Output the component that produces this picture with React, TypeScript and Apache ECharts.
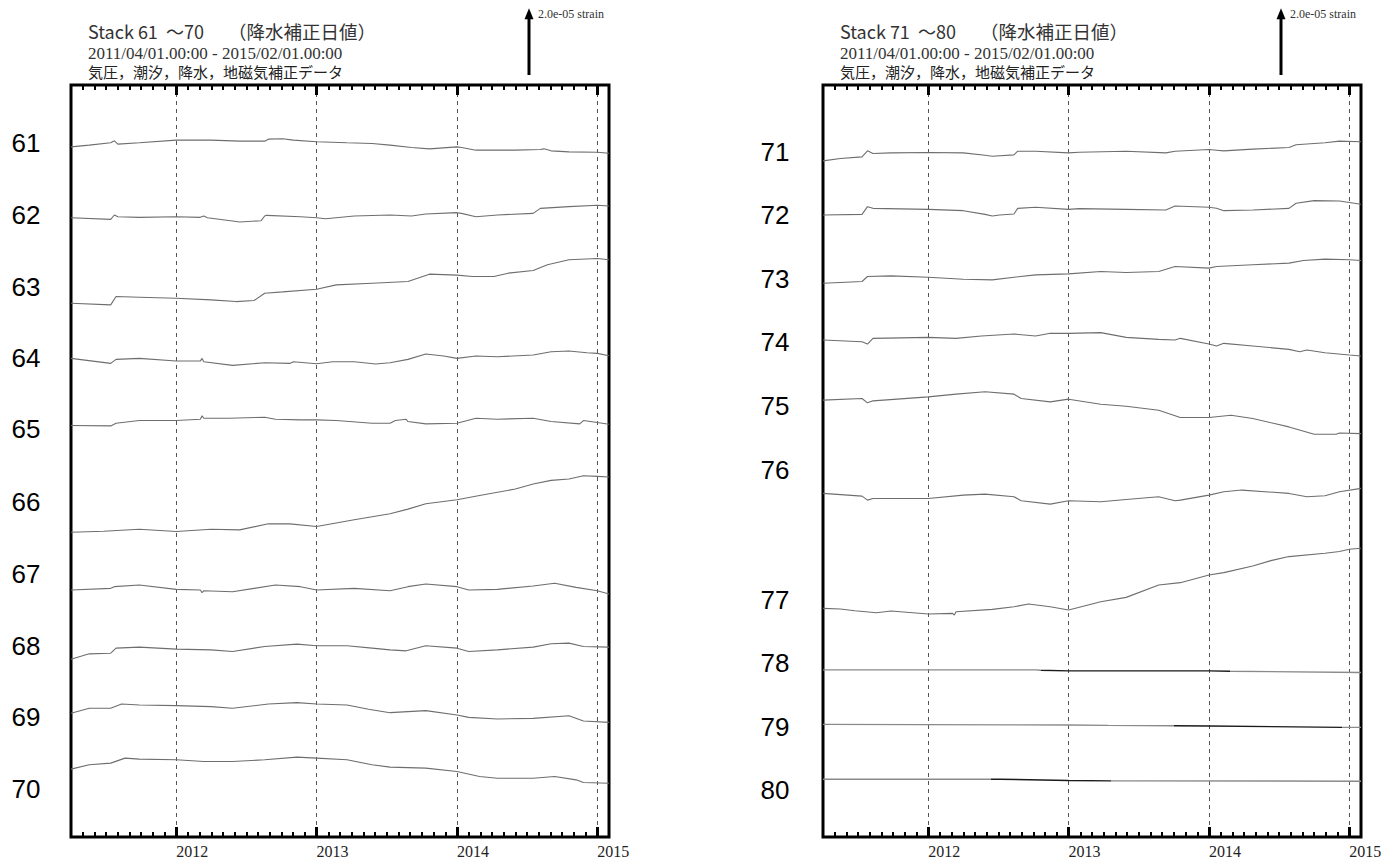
import React, { useEffect, useRef } from 'react';
import * as echarts from 'echarts';

// ---- time range & ticks (decimal years) ----
const START_YEAR = 2011.25; // 2011/04/01
const END_YEAR = 2015.0833; // 2015/02/01
const yearTicks = [2012, 2013, 2014, 2015];
const STRAIN_PER_UNIT = 1e-7; // y values are in units of 1e-7 strain
const SCALE_BAR_STRAIN = 2.0e-5;
const Y_MAX_UNITS = 2250;

const titleLeft = ['Stack 61', '～70', '（降水補正日値）'];
const titleRight = ['Stack 71', '～80', '（降水補正日値）'];
const periodText = '2011/04/01.00:00 - 2015/02/01.00:00';
const noteText = '気圧，潮汐，降水，地磁気補正データ';
const scaleText = '2.0e-05 strain';

const leftNames = ['61', '62', '63', '64', '65', '66', '67', '68', '69', '70'];
const rightNames = ['71', '72', '73', '74', '75', '76', '77', '78', '79', '80'];

// stack offsets (1e-7 strain)
const leftOffsets = [2065, 1853, 1597, 1432, 1231, 912, 739, 532, 370, 203];
const rightOffsets = [2023, 1861, 1657, 1487, 1307, 1028, 684, 500, 337, 173];

type P = [number, number];
// [decimal year, change in 1e-7 strain]
const s61: P[] = [[2011.25,0],[2011.38,5],[2011.533,12],[2011.559,18],[2011.584,8],[2011.737,12],[2012.0,20],[2012.247,20],[2012.452,17],[2012.63,17],[2012.656,23],[2012.758,24],[2012.834,20],[2013.0,15],[2013.217,12],[2013.395,10],[2013.523,5],[2013.676,-2],[2013.804,-6],[2014.0,0],[2014.033,-2],[2014.135,-10],[2014.416,-10],[2014.594,-8],[2014.62,-6],[2014.671,-12],[2014.798,-15],[2015.0,-16],[2015.0833,-19]];
const s62: P[] = [[2011.25,0],[2011.533,-5],[2011.559,8],[2011.584,3],[2011.737,1],[2012.0,3],[2012.171,1],[2012.196,5],[2012.222,0],[2012.401,-10],[2012.452,-13],[2012.605,-9],[2012.63,5],[2012.643,7],[2012.885,3],[2013.0,0],[2013.064,-3],[2013.268,5],[2013.523,8],[2013.676,5],[2013.778,11],[2014.0,15],[2014.033,13],[2014.135,3],[2014.288,8],[2014.543,13],[2014.594,28],[2014.798,33],[2015.0,37],[2015.0833,35]];
const s63: P[] = [[2011.25,0],[2011.533,-5],[2011.571,20],[2011.737,18],[2012.0,15],[2012.247,10],[2012.426,5],[2012.554,8],[2012.63,30],[2012.758,34],[2013.0,42],[2013.14,55],[2013.395,60],[2013.651,65],[2013.74,78],[2013.804,87],[2014.0,84],[2014.11,80],[2014.263,80],[2014.365,90],[2014.543,98],[2014.645,115],[2014.798,130],[2015.0,134],[2015.0833,130]];
const s64: P[] = [[2011.25,0],[2011.533,-15],[2011.571,-3],[2011.737,0],[2012.0,-8],[2012.171,-8],[2012.184,0],[2012.196,-10],[2012.401,-21],[2012.63,-13],[2012.809,-15],[2012.834,-10],[2013.0,-16],[2013.115,-10],[2013.268,-10],[2013.421,-17],[2013.523,-13],[2013.651,-3],[2013.778,13],[2013.906,7],[2014.0,0],[2014.135,7],[2014.288,5],[2014.543,10],[2014.671,20],[2014.798,22],[2014.926,17],[2015.0,15],[2015.0833,8]];
const s65: P[] = [[2011.25,0],[2011.533,-1],[2011.571,7],[2011.737,15],[2012.0,15],[2012.171,19],[2012.184,29],[2012.196,22],[2012.375,22],[2012.63,25],[2012.707,19],[2012.885,17],[2013.0,17],[2013.14,15],[2013.395,7],[2013.523,7],[2013.561,15],[2013.638,19],[2013.651,12],[2013.778,5],[2014.0,7],[2014.135,22],[2014.288,19],[2014.543,22],[2014.671,12],[2014.875,5],[2014.901,15],[2015.0,9],[2015.0833,4]];
const s66: P[] = [[2011.25,0],[2011.482,3],[2011.737,9],[2012.0,2],[2012.247,9],[2012.452,7],[2012.656,25],[2012.809,25],[2013.0,17],[2013.268,37],[2013.523,55],[2013.651,69],[2013.778,85],[2014.0,97],[2014.161,110],[2014.416,129],[2014.543,144],[2014.671,155],[2014.798,159],[2014.901,169],[2015.0,167],[2015.0833,165]];
const s67: P[] = [[2011.25,0],[2011.533,5],[2011.559,10],[2011.737,15],[2012.0,2],[2012.171,0],[2012.184,-8],[2012.196,-2],[2012.401,-5],[2012.554,5],[2012.707,15],[2012.885,10],[2013.0,0],[2013.268,5],[2013.523,-2],[2013.651,10],[2013.778,18],[2014.0,10],[2014.084,0],[2014.288,2],[2014.543,12],[2014.696,20],[2014.849,8],[2015.0,-2],[2015.0833,-12]];
const s68: P[] = [[2011.25,0],[2011.38,16],[2011.533,18],[2011.571,33],[2011.737,36],[2012.0,30],[2012.247,28],[2012.401,23],[2012.63,38],[2012.86,45],[2013.0,40],[2013.217,40],[2013.395,33],[2013.523,28],[2013.638,25],[2013.778,40],[2014.0,33],[2014.084,23],[2014.288,28],[2014.543,36],[2014.671,46],[2014.798,48],[2014.901,38],[2015.0833,36]];
const s69: P[] = [[2011.25,0],[2011.38,15],[2011.533,15],[2011.61,28],[2011.737,25],[2012.0,23],[2012.247,20],[2012.401,15],[2012.656,28],[2012.86,32],[2013.0,28],[2013.217,25],[2013.37,12],[2013.523,2],[2013.651,5],[2013.778,8],[2014.0,-5],[2014.084,-12],[2014.288,-17],[2014.543,-15],[2014.798,-7],[2014.901,-23],[2015.0833,-27]];
const s70: P[] = [[2011.25,0],[2011.38,13],[2011.533,18],[2011.635,33],[2011.737,30],[2012.0,28],[2012.196,23],[2012.401,23],[2012.63,28],[2012.86,36],[2013.0,33],[2013.217,28],[2013.395,13],[2013.523,6],[2013.778,3],[2014.0,-7],[2014.161,-22],[2014.288,-27],[2014.543,-27],[2014.696,-22],[2014.849,-32],[2014.901,-40],[2015.0833,-42]];

const s71: P[] = [[2011.25,0],[2011.374,7],[2011.528,12],[2011.567,30],[2011.606,22],[2011.735,24],[2012.0,25],[2012.25,24],[2012.405,17],[2012.456,14],[2012.611,18],[2012.637,29],[2012.765,29],[2013.0,24],[2013.075,26],[2013.41,29],[2013.693,24],[2013.758,29],[2014.0,34],[2014.054,32],[2014.106,30],[2014.312,35],[2014.57,40],[2014.621,48],[2014.827,54],[2014.93,59],[2015.0833,57]];
const s72: P[] = [[2011.25,0],[2011.528,2],[2011.567,25],[2011.606,20],[2012.0,17],[2012.25,13],[2012.405,2],[2012.456,-3],[2012.508,0],[2012.611,3],[2012.637,20],[2012.765,23],[2013.0,17],[2013.075,19],[2013.41,17],[2013.693,15],[2013.758,27],[2014.0,23],[2014.054,20],[2014.106,13],[2014.312,15],[2014.57,20],[2014.621,35],[2014.75,43],[2014.93,42],[2015.0833,32]];
const s73: P[] = [[2011.25,0],[2011.528,5],[2011.567,20],[2011.735,22],[2012.0,18],[2012.25,12],[2012.456,10],[2012.611,18],[2012.765,25],[2013.0,28],[2013.229,35],[2013.41,32],[2013.642,35],[2013.758,50],[2014.0,45],[2014.054,50],[2014.312,55],[2014.57,60],[2014.673,68],[2014.827,72],[2015.0,70],[2015.0833,68]];
const s74: P[] = [[2011.25,0],[2011.528,-5],[2011.567,-12],[2011.606,5],[2012.0,8],[2012.198,5],[2012.379,12],[2012.611,18],[2012.765,12],[2012.869,20],[2013.0,20],[2013.229,22],[2013.41,8],[2013.642,2],[2013.758,0],[2013.796,5],[2014.0,-12],[2014.054,-18],[2014.106,-10],[2014.312,-18],[2014.57,-28],[2014.647,-35],[2014.698,-30],[2014.827,-38],[2015.0,-45],[2015.0833,-48]];
const s75: P[] = [[2011.25,0],[2011.528,5],[2011.567,-8],[2011.606,-2],[2012.0,10],[2012.198,18],[2012.405,25],[2012.611,18],[2012.662,5],[2012.869,-5],[2013.0,3],[2013.229,-12],[2013.41,-18],[2013.642,-30],[2013.796,-52],[2014.0,-52],[2014.157,-45],[2014.312,-55],[2014.57,-80],[2014.75,-102],[2014.905,-102],[2014.93,-98],[2015.0833,-100]];
const s76: P[] = [[2011.25,0],[2011.528,-8],[2011.567,-20],[2011.606,-15],[2012.0,-15],[2012.25,-5],[2012.405,-2],[2012.611,-10],[2012.662,-22],[2012.869,-32],[2013.0,-22],[2013.229,-25],[2013.41,-18],[2013.642,-10],[2013.758,-22],[2013.796,-20],[2014.0,-5],[2014.106,5],[2014.235,10],[2014.57,0],[2014.698,-10],[2014.827,-7],[2014.93,5],[2015.0833,15]];
const s77: P[] = [[2011.25,0],[2011.374,-2],[2011.477,-7],[2011.631,-13],[2011.735,-8],[2012.0,-17],[2012.173,-15],[2012.186,-20],[2012.198,-10],[2012.456,-3],[2012.611,5],[2012.714,13],[2012.869,5],[2013.0,-5],[2013.229,20],[2013.41,33],[2013.642,70],[2013.796,77],[2014.0,100],[2014.106,107],[2014.312,127],[2014.441,143],[2014.57,155],[2014.827,165],[2014.93,170],[2015.0,177],[2015.0833,180]];
const s78: P[] = [[2011.25,0],[2012.765,0],[2012.8,-1],[2013.0,-3],[2014.0,-3],[2014.15,-4],[2015.0833,-8]];
const s79: P[] = [[2011.25,0],[2013.0,-2],[2013.281,-3],[2013.75,-4],[2014.0,-5],[2014.95,-9],[2015.0833,-9]];
const s80: P[] = [[2011.25,0],[2012.45,0],[2012.508,0],[2013.0,-4],[2013.3,-5],[2015.0833,-6]];

const leftSeries = [s61, s62, s63, s64, s65, s66, s67, s68, s69, s70];
const rightSeries = [s71, s72, s73, s74, s75, s76, s77, s78, s79, s80];

// noisy (darker) stretches of the flat traces 78-80: [series name, from year, to year]
const darkSpans: [string, number, number][] = [['78', 2012.8, 2014.15], ['79', 2013.75, 2014.95], ['80', 2012.45, 2013.3]];

// ---- layout (pixels) ----
const GRID_TOP = 85;
const GRID_H = 752;
const GRID_W = 538;
const PANEL_LEFT = [71, 823];
const NAME_X = [26, 775];
const leftNameY = [143, 215, 287, 358, 429, 502, 574, 646, 717, 789];
const rightNameY = [152, 215, 279, 342, 406, 470, 600, 663, 727, 790];

const toMonth = (y: number) => (y - 2011) * 12;
const X_MIN = Math.round(toMonth(START_YEAR));
const X_MAX = Math.round(toMonth(END_YEAR));
const yearMonths = yearTicks.map(toMonth);

const SERIF = '"Liberation Serif", "DejaVu Serif", serif';
const JP = '"Noto Sans CJK JP", sans-serif';
const SANS = '"Liberation Sans", Arial, sans-serif';
const TRACE_COLOR = '#6e6e6e';

function xAxesFor(g: number) {
  const base = {
    gridIndex: g, type: 'value', min: X_MIN, max: X_MAX,
    axisLine: { show: false, onZero: false },
    splitLine: { show: false },
  };
  return [
    { ...base, position: 'bottom', interval: 1,
      axisTick: { inside: true, length: 5, lineStyle: { color: '#000', width: 2 } },
      axisLabel: { show: false } },
    { ...base, position: 'top', interval: 1,
      axisTick: { inside: true, length: 5, lineStyle: { color: '#000', width: 2 } },
      axisLabel: { show: false } },
    { ...base, position: 'bottom',
      axisTick: { inside: true, length: 10, customValues: yearMonths, lineStyle: { color: '#000', width: 3 } },
      axisLabel: { show: true, customValues: yearMonths, formatter: (v: number) => String(Math.round(2011 + v / 12)),
        fontFamily: SERIF, fontSize: 16, color: '#222', margin: 6, align: 'left' },
      splitLine: { show: true, lineStyle: { color: '#555', width: 1, type: [4, 4] } } },
    { ...base, position: 'top',
      axisTick: { inside: true, length: 10, customValues: yearMonths, lineStyle: { color: '#000', width: 3 } },
      axisLabel: { show: false } },
  ];
}

function panelGraphics(g: number, title: string[], names: string[], nameY: number[]) {
  const dx = PANEL_LEFT[g] - PANEL_LEFT[0];
  const arrowX = 529 + dx;
  const arrowBottom = 75;
  const arrowLen = (SCALE_BAR_STRAIN / STRAIN_PER_UNIT) * GRID_H / Y_MAX_UNITS;
  const arrowTop = arrowBottom - arrowLen;
  const els: any[] = [
    { type: 'text', x: 88 + dx, y: 31, style: { text: title[0], fontSize: 18, fontFamily: JP, fill: '#333', align: 'left', verticalAlign: 'middle' } },
    { type: 'text', x: 166 + dx, y: 31, style: { text: title[1], fontSize: 18, fontFamily: JP, fill: '#333', align: 'left', verticalAlign: 'middle' } },
    { type: 'text', x: 228 + dx, y: 31, style: { text: title[2], fontSize: 18.5, fontFamily: JP, fill: '#333', align: 'left', verticalAlign: 'middle' } },
    { type: 'text', x: 88 + dx, y: 53, style: { text: periodText, fontSize: 17, fontFamily: SERIF, fill: '#333', align: 'left', verticalAlign: 'middle' } },
    { type: 'text', x: 88 + dx, y: 71, style: { text: noteText, fontSize: 15, fontFamily: JP, fill: '#222', align: 'left', verticalAlign: 'middle' } },
    { type: 'line', shape: { x1: arrowX, y1: arrowBottom, x2: arrowX, y2: arrowTop + 8 }, style: { stroke: '#000', lineWidth: 3 } },
    { type: 'polygon', shape: { points: [[arrowX - 4.5, arrowTop + 11], [arrowX, arrowTop], [arrowX + 4.5, arrowTop + 11]] }, style: { fill: '#000' } },
    { type: 'text', x: arrowX + 9, y: 14, style: { text: scaleText, fontSize: 12, fontFamily: SERIF, fill: '#333', align: 'left', verticalAlign: 'middle' } },
  ];
  names.forEach((n, i) => {
    els.push({ type: 'text', x: NAME_X[g], y: nameY[i], style: { text: n, fontSize: 26, fontFamily: SANS, fill: '#000', align: 'center', verticalAlign: 'middle' } });
  });
  return els;
}

export default function App() {
  const ref = useRef<HTMLDivElement>(null);
  useEffect(() => {
    if (!ref.current) return;
    const chart = echarts.init(ref.current, undefined, { renderer: 'svg' });
    const grids = PANEL_LEFT.map((left) => ({
      left, top: GRID_TOP, width: GRID_W, height: GRID_H,
      show: true, borderColor: '#000', borderWidth: 3, backgroundColor: 'transparent',
    }));
    const yAxes = [0, 1].map((g) => ({ gridIndex: g, type: 'value', min: 0, max: Y_MAX_UNITS, show: false }));
    const darkNames = darkSpans.map((d) => d[0]);
    const mk = (name: string, pts: P[], off: number, g: number) => {
      const dark = darkNames.includes(name);
      return {
        type: 'line', name, xAxisIndex: g * 4, yAxisIndex: g, symbol: 'none', showSymbol: false, silent: true,
        lineStyle: dark ? { width: 1.4 } : { color: TRACE_COLOR, width: 1.1 },
        data: pts.map((p) => [toMonth(p[0]), off + p[1]]),
      };
    };
    const series = [
      ...leftSeries.map((pts, i) => mk(leftNames[i], pts, leftOffsets[i], 0)),
      ...rightSeries.map((pts, i) => mk(rightNames[i], pts, rightOffsets[i], 1)),
    ];
    const allNames = [...leftNames, ...rightNames];
    const visualMap = darkSpans.map(([name, a, b]) => ({
      type: 'piecewise', show: false, dimension: 0,
      seriesIndex: allNames.indexOf(name),
      pieces: [
        { lt: toMonth(a), color: '#8a8a8a' },
        { gte: toMonth(a), lte: toMonth(b), color: '#1a1a1a' },
        { gt: toMonth(b), color: '#8a8a8a' },
      ],
    }));
    chart.setOption({
      animation: false,
      backgroundColor: '#fff',
      grid: grids,
      xAxis: [...xAxesFor(0), ...xAxesFor(1)],
      yAxis: yAxes,
      visualMap,
      series,
      graphic: [
        ...panelGraphics(0, titleLeft, leftNames, leftNameY),
        ...panelGraphics(1, titleRight, rightNames, rightNameY),
      ],
    });
    return () => chart.dispose();
  }, []);
  return <div ref={ref} style={{ position: 'absolute', left: 0, top: 0, width: 1393, height: 860 }} />;
}
